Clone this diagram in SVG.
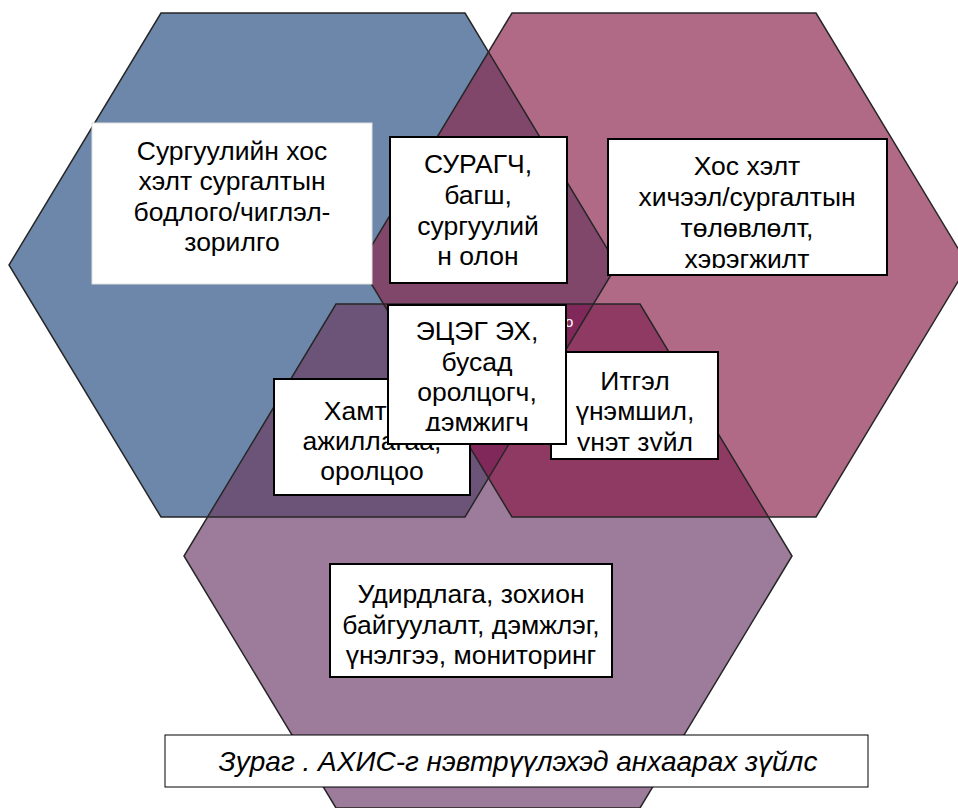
<svg xmlns="http://www.w3.org/2000/svg" width="958" height="808" viewBox="0 0 958 808">
<style>
.t{font-family:"Liberation Sans",Arial,sans-serif;font-size:26.5px;fill:#000;text-anchor:middle}
.cap{font-family:"Liberation Sans",Arial,sans-serif;font-size:28px;font-style:italic;fill:#000;text-anchor:middle}
.box{fill:#fff;stroke:#000;stroke-width:2}
.boxa{fill:#fff;stroke:#e0e0e0;stroke-width:1}
.edge{fill:none;stroke:#262626;stroke-width:1.5;stroke-linejoin:miter}
</style>
<defs>
<polygon id="hexB" points="161,13 465,13 617,265 465,517 161,517 9,265"/>
<polygon id="hexP" points="512,13 816,13 968,265 816,517 512,517 360,265"/>
<polygon id="hexM" points="336,304 640,304 792,556 640,808 336,808 184,556"/>
<clipPath id="cB"><use href="#hexB"/></clipPath>
<clipPath id="cP"><use href="#hexP"/></clipPath>
<clipPath id="clipC"><rect x="609" y="140" width="277" height="128"/></clipPath>
<clipPath id="clipD"><rect x="552" y="353" width="165" height="98"/></clipPath>
<clipPath id="clipF"><rect x="389" y="306" width="176" height="125"/></clipPath>
<clipPath id="clipB"><rect x="391" y="138" width="175" height="127"/></clipPath>
</defs>

<g id="hexagons">
<g id="hex-blue"><use href="#hexB" fill="#6d87aa"/></g>
<g id="hex-pink"><use href="#hexP" fill="#b06a86"/></g>
<g id="hex-bottom"><use href="#hexM" fill="#9c7b9b"/></g>
<g id="overlaps">
<use href="#hexP" fill="#80476b" clip-path="url(#cB)"/>
<use href="#hexM" fill="#6c5479" clip-path="url(#cB)"/>
<use href="#hexM" fill="#8f3a62" clip-path="url(#cP)"/>
<g clip-path="url(#cP)"><use href="#hexM" fill="#80285a" clip-path="url(#cB)"/></g>
</g>
<g id="hex-edges">
<use href="#hexB" class="edge"/>
<use href="#hexP" class="edge"/>
<use href="#hexM" class="edge"/>
</g>
<text x="565" y="327" style="font-family:'Liberation Sans',Arial,sans-serif;font-size:15px;fill:#fff">о</text>
</g>

<g id="connectors"/>

<g id="node-policy">
<rect class="boxa" x="92" y="123" width="280" height="161"/>
<text class="t" x="232" y="160">Сургуулийн хос</text>
<text class="t" x="232" y="190">хэлт сургалтын</text>
<text class="t" x="232" y="221">бодлого/чиглэл-</text>
<text class="t" x="232" y="251">зорилго</text>
</g>

<g id="node-students">
<rect class="box" x="390" y="137" width="177" height="146"/>
<g clip-path="url(#clipB)">
<text class="t" x="478" y="173">СУРАГЧ,</text>
<text class="t" x="478" y="204">багш,</text>
<text class="t" x="478" y="235">сургуулий</text>
<text class="t" x="478" y="265">н олон</text>
</g>
</g>

<g id="node-planning">
<rect class="box" x="608" y="139" width="279" height="136"/>
<g clip-path="url(#clipC)">
<text class="t" x="747" y="175">Хос хэлт</text>
<text class="t" x="747" y="206">хичээл/сургалтын</text>
<text class="t" x="747" y="237">төлөвлөлт,</text>
<text class="t" x="747" y="268">хэрэгжилт</text>
</g>
</g>

<g id="node-values">
<rect class="box" x="551" y="352" width="167" height="107"/>
<g clip-path="url(#clipD)">
<text class="t" x="635" y="390">Итгэл</text>
<text class="t" x="635" y="420">үнэмшил,</text>
<text class="t" x="635" y="451">үнэт зүйл</text>
</g>
</g>

<g id="node-cooperation">
<rect class="box" x="274" y="379" width="196" height="116"/>
<text class="t" x="372" y="420">Хамтын</text>
<text class="t" x="372" y="450">ажиллагаа,</text>
<text class="t" x="372" y="480">оролцоо</text>
</g>

<g id="node-parents">
<rect class="box" x="388" y="305" width="178" height="139"/>
<g clip-path="url(#clipF)">
<text class="t" x="477" y="340">ЭЦЭГ ЭХ,</text>
<text class="t" x="477" y="371">бусад</text>
<text class="t" x="477" y="401">оролцогч,</text>
<text class="t" x="477" y="431">дэмжигч</text>
</g>
</g>

<g id="node-management">
<rect class="box" x="330" y="564" width="282" height="113"/>
<text class="t" x="471" y="603">Удирдлага, зохион</text>
<text class="t" x="471" y="634">байгуулалт, дэмжлэг,</text>
<text class="t" x="471" y="664">үнэлгээ, мониторинг</text>
</g>

<g id="caption">
<rect x="165" y="735" width="703" height="52" fill="#fff" stroke="#000" stroke-width="1"/>
<text class="cap" x="518" y="771">Зураг . АХИС-г нэвтрүүлэхэд анхаарах зүйлс</text>
</g>
</svg>
